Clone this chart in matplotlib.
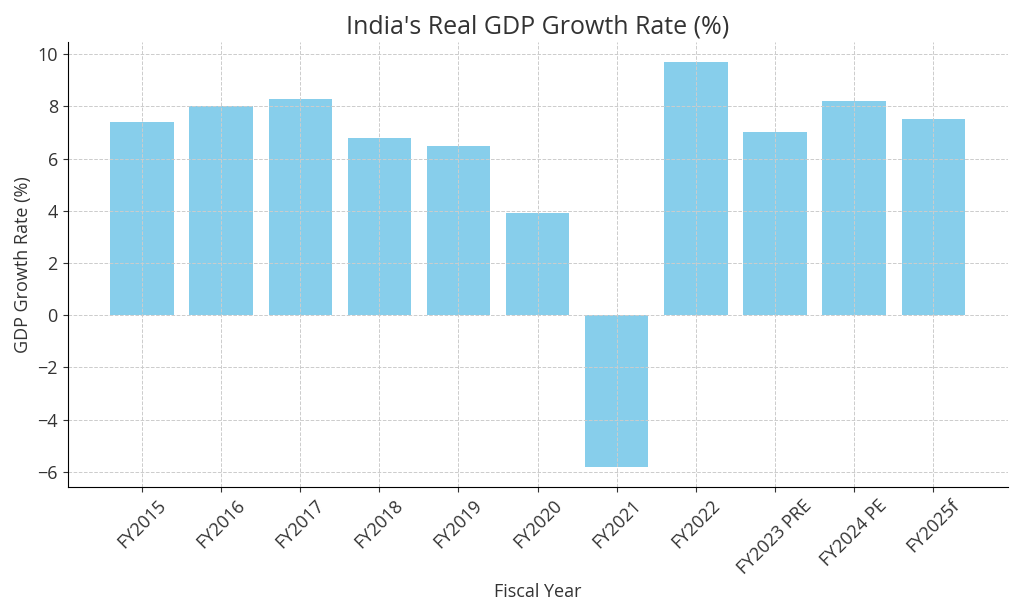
import matplotlib
matplotlib.use("Agg")
import matplotlib.pyplot as plt

plt.rcParams['font.family'] = ['Open Sans', 'DejaVu Sans']
plt.rcParams['text.color'] = '#333333'
plt.rcParams['axes.labelcolor'] = '#333333'
plt.rcParams['xtick.color'] = '#333333'
plt.rcParams['ytick.color'] = '#333333'

years = ['FY2015', 'FY2016', 'FY2017', 'FY2018', 'FY2019', 'FY2020',
         'FY2021', 'FY2022', 'FY2023 PRE', 'FY2024 PE', 'FY2025f']
growth = [7.4, 8.0, 8.3, 6.8, 6.5, 3.9, -5.8, 9.7, 7.0, 8.2, 7.5]

fig, ax = plt.subplots(figsize=(10.24, 6.14), dpi=100)
ax.bar(years, growth, color='skyblue')
ax.set_title("India's Real GDP Growth Rate (%)", fontsize=18)
ax.set_xlabel('Fiscal Year', fontsize=13)
ax.set_ylabel('GDP Growth Rate (%)', fontsize=13)
ax.tick_params(labelsize=13)
plt.xticks(rotation=45)
ax.grid(True, linestyle='--', color='#cccccc', linewidth=0.7)
ax.spines['top'].set_visible(False)
ax.spines['right'].set_visible(False)

fig.subplots_adjust(left=0.066, right=0.984, top=0.932, bottom=0.207)
fig.savefig('out.png', dpi=100)
